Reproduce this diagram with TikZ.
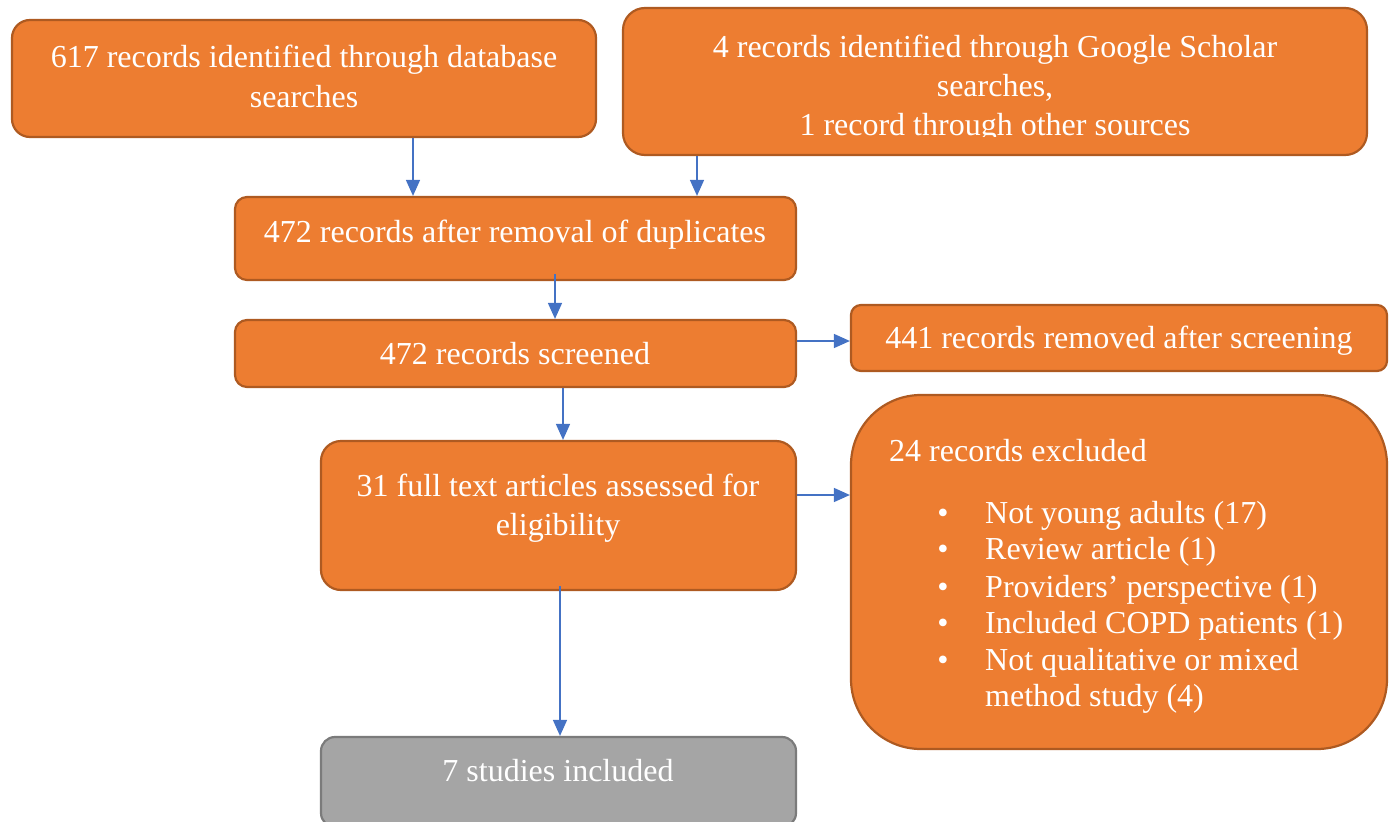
\documentclass[tikz,border=0pt]{standalone}
\usepackage{fontspec}
\setmainfont{Liberation Serif}
\usetikzlibrary{arrows.meta}
\definecolor{boxorange}{HTML}{ED7D31}
\definecolor{boxorangeedge}{HTML}{AE5A21}
\definecolor{boxgray}{HTML}{A5A5A5}
\definecolor{boxgrayedge}{HTML}{7B7B7B}
\definecolor{linkblue}{HTML}{4472C4}
\tikzset{
  obox/.style={draw=boxorangeedge, fill=boxorange, line width=2.2pt, inner sep=0pt},
  gbox/.style={draw=boxgrayedge, fill=boxgray, line width=2.2pt, inner sep=0pt},
  txt/.style={text=white, inner sep=0pt, text height=26pt, text depth=6pt,
    font=\fontsize{32}{40}\selectfont},
  arr/.style={draw=linkblue, line width=1.5pt,
    -{Triangle[width=14pt,length=16pt]}},
}
\begin{document}
\begin{tikzpicture}[x=1pt,y=-1pt]
\useasboundingbox (0,0) rectangle (1393,822);
\clip (0,0) rectangle (1393,822);

% boxes
\node[obox, minimum width=584, minimum height=117, rounded corners=18] (A) at (304,78.5) {};
\node[obox, minimum width=744, minimum height=147, rounded corners=22] (B) at (995,81.5) {};
\node[obox, minimum width=561, minimum height=83, rounded corners=12] (C) at (515.5,238.5) {};
\node[obox, minimum width=561, minimum height=67, rounded corners=12] (D) at (515.5,353.5) {};
\node[obox, minimum width=536, minimum height=66, rounded corners=10] (E) at (1119,338) {};
\node[obox, minimum width=475, minimum height=149, rounded corners=20] (F) at (558.5,515.5) {};
\node[obox, minimum width=536, minimum height=354, rounded corners=70] (G) at (1119,572) {};
\node[gbox, minimum width=475, minimum height=90, rounded corners=14] (H) at (558.5,782) {};

% box texts
\node[txt] (a1) at (304,57) {617 records identified through database};
\node[txt] (a2) at (304,97) {searches};
\node[txt] (b1) at (995,47) {4 records identified through Google Scholar};
\node[txt] (b2) at (995,86) {searches,};
\begin{scope}
  \clip (623,100) rectangle (1367,136);
  \node[txt] (b3) at (995,125) {1 record through other sources};
\end{scope}
\node[txt] (c1) at (515,232) {472 records after removal of duplicates};
\node[txt] (d1) at (515,354) {472 records screened};
\node[txt] (e1) at (1119,338) {441 records removed after screening};
\node[txt] (f1) at (558,486) {31 full text articles assessed for};
\node[txt] (f2) at (558,525) {eligibility};
\node[txt, anchor=west] (g0) at (889,451) {24 records excluded};
\foreach \yy/\label [count=\i] in {513/Not young adults (17), 549/Review article (1),
    587/Providers’ perspective (1), 623/Included COPD patients (1),
    660/Not qualitative or mixed}{
  \node[txt] (gb\i) at (943,\yy) {•};
  \node[txt, anchor=west] (gt\i) at (985,\yy) {\label};
}
\node[txt, anchor=west] (gt6) at (985,696) {method study (4)};
\node[txt] (h1) at (558,771) {7 studies included};

% connectors
\coordinate (xAC) at (413,0);
\coordinate (xBC) at (697,0);
\coordinate (xCD) at (555,0);
\coordinate (xDF) at (563,0);
\coordinate (xFH) at (560,0);
\coordinate (yDE) at (0,341);
\coordinate (yFG) at (0,495);
\draw[arr] (xAC |- A.south) -- (xAC |- C.north);
\draw[arr] (xBC |- B.south) -- (xBC |- C.north);
\draw[arr] ([yshift=7pt]xCD |- C.south) -- (xCD |- D.north);
\draw[arr] (xDF |- D.south) -- (xDF |- F.north);
\draw[arr] (D.east |- yDE) -- (E.west |- yDE);
\draw[arr] (F.east |- yFG) -- (G.west |- yFG);
\draw[arr] ([yshift=5pt]xFH |- F.south) -- (xFH |- H.north);
\end{tikzpicture}
\end{document}
